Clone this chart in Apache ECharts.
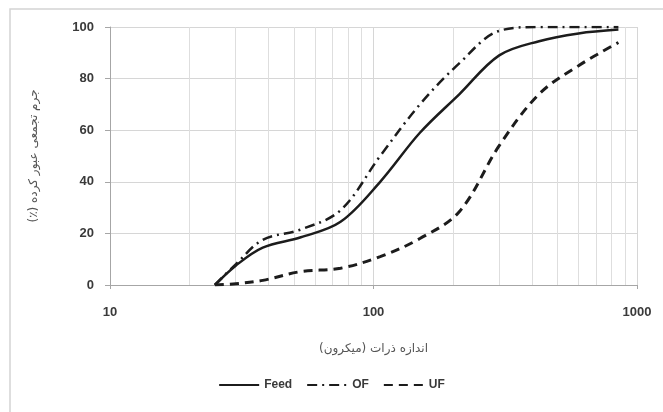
<!DOCTYPE html>
<html>
<head>
<meta charset="utf-8">
<script src="https://cdn.jsdelivr.net/npm/echarts@6/dist/echarts.min.js"></script>
<style>html,body{margin:0;padding:0;background:#fff;}#c{width:663px;height:412px;}</style>
</head>
<body>
<div id="c"></div>
<script>
// Particle sizes (micron)
var sizes = [25, 30, 38, 53, 75, 106, 150, 212, 300, 425, 600, 850];
// Cumulative passing (%)
var feed = [0, 7.5, 14.5, 18.5, 24.5, 40, 59, 74, 89, 94.5, 97.5, 99];
var of   = [0, 8, 17.5, 21.5, 29, 50, 70, 86, 98.5, 100, 100, 100];
var uf   = [0, 0.5, 1.8, 5.2, 6.5, 11, 18, 28.5, 54, 74, 85, 94];
var minorGrid = [20, 30, 40, 50, 60, 70, 80, 90, 200, 300, 400, 500, 600, 700, 800, 900];
var yTicks = [0, 20, 40, 60, 80, 100];
var xName = 'اندازه ذرات (میکرون)';
var yName = 'جرم تجمعی عبور کرده (٪)';

function pairs(v){ return sizes.map(function(s,i){ return [s, v[i]]; }); }
function rtl(t){ return '\u202B' + t + '\u202C'; }

var chart = echarts.init(document.getElementById('c'));
var ink = '#1c1c1c';
chart.setOption({
  animation: false,
  backgroundColor: '#fff',
  graphic: [{
    type: 'rect', shape: {x: 10, y: 9, width: 700, height: 450},
    style: {fill: 'none', stroke: '#d4d4d4', lineWidth: 1.5}, silent: true, z: -10
  }],
  grid: {left: 110, right: 26, top: 27, bottom: 127},
  legend: {
    bottom: 16, left: 'center', itemWidth: 40, itemHeight: 10, itemGap: 14,
    itemStyle: {opacity: 0},
    textStyle: {fontFamily: 'Liberation Sans', fontWeight: 'bold', fontSize: 12, color: '#3a3a3a'},
    data: ['Feed', 'OF', 'UF']
  },
  xAxis: {
    type: 'log', logBase: 10, min: 10, max: 1000,
    name: rtl(xName), nameLocation: 'middle', nameGap: 58,
    nameTextStyle: {fontFamily: 'DejaVu Sans', fontSize: 12, color: '#555'},
    axisLine: {lineStyle: {color: '#a6a6a6', width: 1}},
    axisTick: {show: true, length: 4, lineStyle: {color: '#a6a6a6'}},
    axisLabel: {fontFamily: 'Liberation Sans', fontWeight: 'bold', fontSize: 13, color: '#3a3a3a', margin: 21,
      formatter: function(v){ return String(Math.round(v)); }},
    splitLine: {show: true, lineStyle: {color: '#d6d6d6', width: 1}}
  },
  yAxis: {
    type: 'value', min: 0, max: 100, interval: 20,
    name: rtl(yName), nameLocation: 'middle', nameGap: 70, nameRotate: 90,
    nameTextStyle: {fontFamily: 'DejaVu Sans', fontSize: 12, color: '#555'},
    axisLine: {show: true, lineStyle: {color: '#a6a6a6', width: 1}},
    axisTick: {show: true, length: 5, lineStyle: {color: '#a6a6a6'}},
    axisLabel: {fontFamily: 'Liberation Sans', fontWeight: 'bold', fontSize: 13, color: '#3a3a3a', margin: 16},
    splitLine: {show: true, lineStyle: {color: '#d6d6d6', width: 1}}
  },
  series: [
    {
      name: 'Feed', type: 'line', data: pairs(feed), smooth: 0.35, symbol: 'none',
      lineStyle: {color: ink, width: 2.5, type: 'solid'}, itemStyle: {color: ink}, z: 5,
      markLine: {
        silent: true, symbol: 'none', label: {show: false},
        lineStyle: {color: '#dedede', width: 1, type: 'solid'},
        data: minorGrid.map(function(v){ return {xAxis: v}; }), z: 1
      }
    },
    {
      name: 'OF', type: 'line', data: pairs(of), smooth: 0.35, symbol: 'none',
      lineStyle: {color: ink, width: 2.5, type: [10, 5, 2, 5]}, itemStyle: {color: ink}, z: 4
    },
    {
      name: 'UF', type: 'line', data: pairs(uf), smooth: 0.35, symbol: 'none',
      lineStyle: {color: ink, width: 3, type: [9, 6]}, itemStyle: {color: ink}, z: 4
    }
  ]
});
</script>
</body>
</html>
